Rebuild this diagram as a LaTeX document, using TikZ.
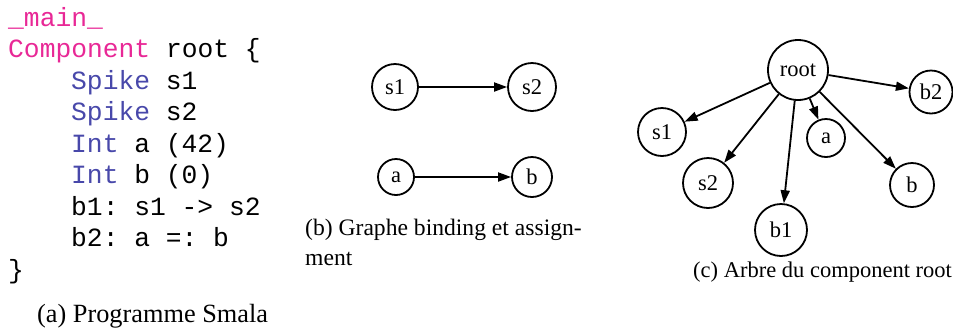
\documentclass[tikz,border=0pt]{standalone}
\usepackage{fontspec}
\setmainfont{Liberation Serif}
\setmonofont{Liberation Mono}
\usetikzlibrary{arrows.meta}
\definecolor{kwpink}{RGB}{232,40,150}
\definecolor{kwblue}{RGB}{72,72,170}
\begin{document}
\begin{tikzpicture}[x=1pt,y=-1pt,
  code/.style={anchor=base west,inner sep=0,font=\fontsize{26.3}{31.5}\selectfont\ttfamily},
  capA/.style={anchor=base west,inner sep=0,font=\fontsize{26.3}{31.5}\selectfont},
  capB/.style={anchor=base west,inner sep=0,font=\fontsize{23.6}{30}\selectfont},
  capC/.style={anchor=base west,inner sep=0,font=\fontsize{22.5}{28}\selectfont},
  vnode/.style={circle,draw,line width=1.8pt,inner sep=0,font=\fontsize{22.5}{24}\selectfont},
  arr/.style={line width=1.8pt,-{Triangle[length=13pt,width=9pt]}}]
\useasboundingbox (0,0) rectangle (953,333);
% (a) code
\node[code] (l1) at (8,26) {\textcolor{kwpink}{\_main\_}};
\node[code] (l2) at (8,57.5) {\textcolor{kwpink}{Component} root \{};
\node[code] (l3) at (71,89) {\textcolor{kwblue}{Spike} s1};
\node[code] (l4) at (71,120.5) {\textcolor{kwblue}{Spike} s2};
\node[code] (l5) at (71,152) {\textcolor{kwblue}{Int} a (42)};
\node[code] (l6) at (71,183.5) {\textcolor{kwblue}{Int} b (0)};
\node[code] (l7) at (71,215) {b1: s1 -> s2};
\node[code] (l8) at (71,246.5) {b2: a =: b};
\node[code] (l9) at (8,278) {\}};
\node[capA] (ca) at (37,322) {(a) Programme Smala};
% (b) graph
\node[vnode,minimum size=46pt] (gs1) at (395,87) {s1};
\node[vnode,minimum size=48pt] (gs2) at (532,87) {s2};
\node[vnode,minimum size=36pt] (ga) at (396,177) {a};
\node[vnode,minimum size=40pt] (gb) at (532,177) {b};
\draw[arr] (gs1) -- (gs2);
\draw[arr] (ga) -- (gb);
\node[capB] (cb1) at (305,235) {(b) Graphe binding et assign-};
\node[capB] (cb2) at (305,265) {ment};
% (c) tree
\node[vnode,minimum size=60pt] (troot) at (798,70) {root};
\node[vnode,minimum size=43pt] (tb2) at (931,92) {b2};
\node[vnode,minimum size=48pt] (ts1) at (662,132) {s1};
\node[vnode,minimum size=38pt] (ta) at (826,138) {a};
\node[vnode,minimum size=50pt] (ts2) at (708,183) {s2};
\node[vnode,minimum size=52pt] (tb1) at (781,230) {b1};
\node[vnode,minimum size=44pt] (tb) at (912,185) {b};
\draw[arr] (troot) -- (ts1);
\draw[arr] (troot) -- (ts2);
\draw[arr] (troot) -- (tb1);
\draw[arr] (troot) -- (ta);
\draw[arr] (troot) -- (tb);
\draw[arr] (troot) -- (tb2);
\node[capC] (cc) at (693,277) {(c) Arbre du component root};
\end{tikzpicture}
\end{document}
